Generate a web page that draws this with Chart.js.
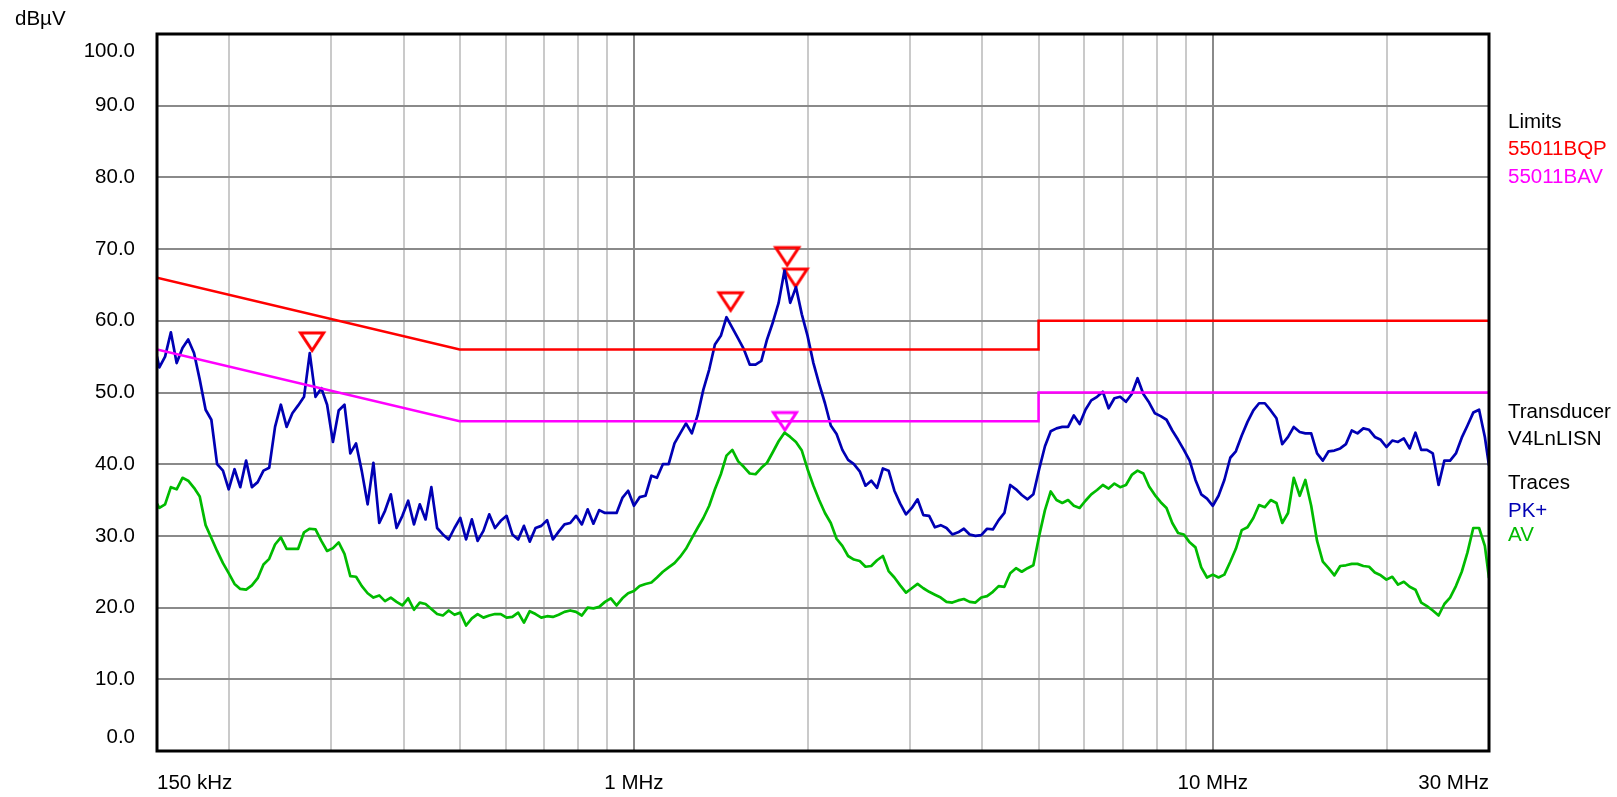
<!DOCTYPE html>
<html>
<head>
<meta charset="utf-8">
<title>Conducted emission scan</title>
<script src="https://cdn.jsdelivr.net/npm/chart.js@4.4.1/dist/chart.umd.min.js"></script>
<style>
  html, body { margin: 0; padding: 0; background: #ffffff; }
  #wrap { width: 1617px; height: 797px; }
</style>
</head>
<body>
<div id="wrap"><canvas id="scan" width="1617" height="797"></canvas></div>
<script>
// Sweep frequencies in MHz (receiver scan points)
const freqMHz = [0.15,
  0.1514,0.1549,0.1585,0.1622,0.1660,0.1698,0.1738,0.1778,0.1820,0.1862,
  0.1905,0.1950,0.1995,0.2042,0.2089,0.2138,0.2188,0.2239,0.2291,0.2344,
  0.2399,0.2455,0.2512,0.2570,0.2630,0.2692,0.2754,0.2818,0.2884,0.2951,
  0.3020,0.3090,0.3162,0.3236,0.3311,0.3388,0.3467,0.3548,0.3631,0.3715,
  0.3802,0.3890,0.3981,0.4074,0.4169,0.4266,0.4365,0.4467,0.4571,0.4677,
  0.4786,0.4898,0.5012,0.5129,0.5248,0.5370,0.5495,0.5623,0.5754,0.5888,
  0.6026,0.6166,0.6310,0.6457,0.6607,0.6761,0.6918,0.7079,0.7244,0.7413,
  0.7586,0.7762,0.7943,0.8128,0.8318,0.8511,0.8710,0.8913,0.9120,0.9333,
  0.9550,0.9772,
  1.000,1.023,1.047,1.072,1.096,1.122,1.148,1.175,1.202,1.230,
  1.259,1.288,1.318,1.349,1.380,1.413,1.445,1.479,1.514,1.549,
  1.585,1.622,1.660,1.698,1.738,1.778,1.820,1.862,1.905,1.950,
  1.995,2.042,2.089,2.138,2.188,2.239,2.291,2.344,2.399,2.455,
  2.512,2.570,2.630,2.692,2.754,2.818,2.884,2.951,3.020,3.090,
  3.162,3.236,3.311,3.388,3.467,3.548,3.631,3.715,3.802,3.890,
  3.981,4.074,4.169,4.266,4.365,4.467,4.571,4.677,4.786,4.898,
  5.012,5.129,5.248,5.370,5.495,5.623,5.754,5.888,6.026,6.166,
  6.310,6.457,6.607,6.761,6.918,7.079,7.244,7.413,7.586,7.762,
  7.943,8.128,8.318,8.511,8.710,8.913,9.120,9.333,9.550,9.772,
  10.00,10.23,10.47,10.72,10.96,11.22,11.48,11.75,12.02,12.30,
  12.59,12.88,13.18,13.49,13.80,14.13,14.45,14.79,15.14,15.49,
  15.85,16.22,16.60,16.98,17.38,17.78,18.20,18.62,19.05,19.50,
  19.95,20.42,20.89,21.38,21.88,22.39,22.91,23.44,23.99,24.55,
  25.12,25.70,26.30,26.92,27.54,28.18,28.84,29.51,
  30.0];

// PK+ trace, dBµV
const pkPlus = [55.0,
  53.5,55.0,58.4,54.1,56.2,57.4,55.5,51.8,47.6,46.2,
  40.0,39.1,36.5,39.3,36.8,40.5,36.8,37.5,39.1,39.5,
  45.2,48.3,45.2,47.1,48.2,49.4,55.5,49.4,50.6,48.3,
  43.1,47.5,48.3,41.5,42.9,39.0,34.4,40.2,31.8,33.5,
  35.8,31.1,32.8,34.9,31.6,34.4,32.3,36.8,31.1,30.2,
  29.5,31.1,32.5,29.5,32.3,29.3,30.7,33.0,31.1,32.1,
  32.8,30.2,29.5,31.4,29.2,31.1,31.4,32.2,29.5,30.6,
  31.6,31.8,32.8,31.6,33.7,31.7,33.6,33.2,33.2,33.2,
  35.3,36.3,
  34.2,35.4,35.6,38.4,38.1,40.0,40.0,42.9,44.3,45.7,
  44.3,46.8,50.4,53.2,56.7,57.9,60.5,59.0,57.5,56.0,
  53.9,53.9,54.4,57.4,59.8,62.5,67.0,62.5,64.7,60.9,
  57.9,54.1,51.2,48.5,45.4,44.2,42.0,40.6,40.0,39.0,
  37.0,37.7,36.7,39.4,39.1,36.3,34.5,33.0,33.9,35.1,
  32.9,32.8,31.2,31.5,31.1,30.2,30.5,31.0,30.2,30.0,
  30.1,31.0,30.9,32.2,33.2,37.1,36.5,35.7,35.1,35.8,
  39.3,42.5,44.6,45.0,45.2,45.2,46.8,45.6,47.6,48.9,
  49.4,50.1,47.8,49.2,49.4,48.7,49.8,52.0,49.8,48.6,
  47.1,46.7,46.2,44.7,43.4,42.0,40.5,37.8,35.8,35.2,
  34.2,35.6,37.8,40.9,41.8,44.0,45.9,47.5,48.5,48.5,
  47.5,46.4,42.8,43.8,45.2,44.5,44.3,44.3,41.5,40.5,
  41.8,41.9,42.2,42.8,44.7,44.3,45.0,44.8,43.8,43.4,
  42.4,43.3,43.1,43.6,42.2,44.4,42.0,42.0,41.5,37.1,
  40.5,40.5,41.5,43.7,45.4,47.2,47.6,43.8,
  39.8];

// AV trace, dBµV
const average = [34.5,
  33.9,34.4,36.8,36.5,38.1,37.7,36.7,35.5,31.5,29.7,
  27.9,26.2,24.8,23.3,22.6,22.5,23.1,24.1,26.0,26.8,
  28.8,29.8,28.2,28.2,28.2,30.5,31.0,30.9,29.3,27.9,
  28.3,29.1,27.5,24.4,24.3,23.0,22.0,21.4,21.7,20.9,
  21.4,20.8,20.3,21.3,19.7,20.7,20.5,19.8,19.1,18.9,
  19.6,19.0,19.3,17.5,18.5,19.1,18.6,18.9,19.1,19.1,
  18.6,18.7,19.3,17.9,19.5,19.1,18.6,18.8,18.7,19.0,
  19.4,19.6,19.4,18.9,20.0,19.9,20.1,20.8,21.3,20.3,
  21.3,22.0,
  22.3,23.0,23.3,23.5,24.2,25.0,25.6,26.2,27.1,28.2,
  29.7,31.1,32.5,34.2,36.5,38.6,41.2,42.0,40.4,39.6,
  38.7,38.6,39.5,40.2,41.7,43.2,44.4,43.8,43.1,41.9,
  39.3,37.0,35.0,33.2,31.8,29.6,28.6,27.2,26.7,26.5,
  25.7,25.8,26.6,27.2,25.1,24.2,23.1,22.1,22.7,23.3,
  22.7,22.2,21.8,21.4,20.8,20.7,21.0,21.2,20.8,20.7,
  21.4,21.6,22.2,23.0,22.9,24.8,25.5,25.0,25.5,25.9,
  30.0,33.6,36.2,35.0,34.6,35.0,34.2,33.9,34.9,35.8,
  36.4,37.1,36.6,37.3,36.8,37.1,38.5,39.1,38.7,36.9,
  35.7,34.7,33.9,31.8,30.4,30.2,29.1,28.4,25.6,24.2,
  24.6,24.2,24.6,26.4,28.2,30.8,31.2,32.5,34.3,34.0,
  35.0,34.6,31.8,33.2,38.1,35.6,37.8,34.2,29.3,26.4,
  25.5,24.5,25.8,25.9,26.1,26.1,25.8,25.7,24.9,24.5,
  23.9,24.3,23.2,23.6,22.9,22.5,20.7,20.2,19.6,18.9,
  20.5,21.4,23.0,25.0,27.7,31.1,31.1,28.6,
  24.1];

// EN 55011 class B limit lines
const limitFreq = [0.15, 0.5, 5, 5, 30];
const limitQP = [66, 56, 56, 60, 60];
const limitAV = [56, 46, 46, 50, 50];

// Peak markers
const qpMarkFreq = [0.278, 1.469, 1.840, 1.902];
const qpMarkLevel = [55.8, 61.4, 67.7, 64.7];
const avMarkFreq = [1.823];
const avMarkLevel = [44.7];

// Axes
const xGridTicks = [0.15, 0.2, 0.3, 0.4, 0.5, 0.6, 0.7, 0.8, 0.9, 1, 2, 3, 4, 5, 6, 7, 8, 9, 10, 20, 30];
const xTickLabels = { 0.15: '150 kHz', 1: '1 MHz', 10: '10 MHz', 30: '30 MHz' };
const yTicks = [0, 10, 20, 30, 40, 50, 60, 70, 80, 90, 100];
const yTickLabels = ['0.0', '10.0', '20.0', '30.0', '40.0', '50.0', '60.0', '70.0', '80.0', '90.0', '100.0'];
const yUnit = 'dBµV';

const FONT = '"Liberation Sans", Arial, Helvetica, sans-serif';
const FONT_SIZE = 20.5;
Chart.defaults.font.family = FONT;
Chart.defaults.color = '#000000';

const COL_PK = '#0000b4';
const COL_AV = '#00bb00';
const COL_QP_LIM = '#ff0000';
const COL_AV_LIM = '#ff00ff';

function pairs(xs, ys) { return xs.map((x, i) => ({ x: x, y: ys[i] })); }

// Downward triangle whose lower vertex sits exactly at the canvas centre
function triangleMarker(color) {
  const c = document.createElement('canvas');
  c.width = 30; c.height = 48;
  const g = c.getContext('2d');
  g.strokeStyle = color;
  g.lineWidth = 3;
  g.lineJoin = 'miter';
  g.beginPath();
  g.moveTo(3.5, 6); g.lineTo(26.5, 6); g.lineTo(15, 23.5); g.closePath();
  g.stroke();
  return c;
}

const legendEntries = [
  { text: 'Limits', color: '#000000', y: 122 },
  { text: '55011BQP', color: COL_QP_LIM, y: 149 },
  { text: '55011BAV', color: COL_AV_LIM, y: 177 },
  { text: 'Transducer', color: '#000000', y: 412 },
  { text: 'V4LnLISN', color: '#000000', y: 439 },
  { text: 'Traces', color: '#000000', y: 483 },
  { text: 'PK+', color: COL_PK, y: 511 },
  { text: 'AV', color: COL_AV, y: 535 }
];

const decorations = {
  id: 'decorations',
  afterDraw(chart) {
    const { ctx, chartArea: a } = chart;
    const y = chart.scales.y;
    ctx.save();
    ctx.strokeStyle = '#000000';
    ctx.lineWidth = 3;
    ctx.strokeRect(a.left, a.top, a.right - a.left, a.bottom - a.top);

    ctx.font = FONT_SIZE + 'px ' + FONT;
    ctx.fillStyle = '#000000';
    ctx.textAlign = 'right';
    ctx.textBaseline = 'middle';
    yTicks.forEach((v, i) => {
      let py = y.getPixelForValue(v);
      if (i === 0) py -= 14;
      if (i === yTicks.length - 1) py += 17;
      ctx.fillText(yTickLabels[i], 135, py);
    });

    ctx.textAlign = 'left';
    ctx.fillText(yUnit, 15, 19);

    legendEntries.forEach(e => {
      ctx.fillStyle = e.color;
      ctx.fillText(e.text, 1508, e.y);
    });
    ctx.restore();
  }
};

new Chart(document.getElementById('scan'), {
  type: 'line',
  data: {
    datasets: [
      { label: '55011BQP', data: pairs(limitFreq, limitQP), borderColor: COL_QP_LIM, borderWidth: 2.5, pointRadius: 0, tension: 0 },
      { label: '55011BAV', data: pairs(limitFreq, limitAV), borderColor: COL_AV_LIM, borderWidth: 2.5, pointRadius: 0, tension: 0 },
      { label: 'AV', data: pairs(freqMHz, average), borderColor: COL_AV, borderWidth: 2.7, pointRadius: 0, tension: 0, borderJoinStyle: 'round' },
      { label: 'PK+', data: pairs(freqMHz, pkPlus), borderColor: COL_PK, borderWidth: 2.7, pointRadius: 0, tension: 0, borderJoinStyle: 'round' },
      { label: 'QP marks', data: pairs(qpMarkFreq, qpMarkLevel), showLine: false, pointStyle: triangleMarker(COL_QP_LIM), pointRadius: 10, clip: false },
      { label: 'AV marks', data: pairs(avMarkFreq, avMarkLevel), showLine: false, pointStyle: triangleMarker(COL_AV_LIM), pointRadius: 10, clip: false }
    ]
  },
  options: {
    responsive: false,
    animation: false,
    devicePixelRatio: 1,
    layout: { padding: { left: 0, top: 34, right: 128, bottom: 0 } },
    plugins: { legend: { display: false }, tooltip: { enabled: false }, title: { display: false } },
    scales: {
      x: {
        type: 'logarithmic',
        min: 0.15,
        max: 30,
        afterBuildTicks: (scale) => { scale.ticks = xGridTicks.map(v => ({ value: v })); },
        afterFit: (scale) => { scale.height = 46; },
        border: { display: false },
        grid: {
          drawTicks: false,
          lineWidth: 2,
          color: (c) => {
            const v = c.tick ? c.tick.value : null;
            if (v === 0.15 || v === 30) return 'rgba(0,0,0,0)';
            if (v === 1 || v === 10) return '#8a8a8a';
            return '#cacaca';
          }
        },
        ticks: {
          autoSkip: false,
          maxRotation: 0,
          minRotation: 0,
          align: 'inner',
          padding: 20,
          color: '#000000',
          font: { size: FONT_SIZE },
          callback: (v) => xTickLabels[v] || ''
        }
      },
      y: {
        type: 'linear',
        min: 0,
        max: 100,
        afterBuildTicks: (scale) => { scale.ticks = yTicks.map(v => ({ value: v })); },
        afterFit: (scale) => { scale.width = 157; },
        border: { display: false },
        grid: {
          drawTicks: false,
          lineWidth: 2,
          color: (c) => {
            const v = c.tick ? c.tick.value : null;
            if (v === 0 || v === 100) return 'rgba(0,0,0,0)';
            return '#8a8a8a';
          }
        },
        ticks: { display: false }
      }
    }
  },
  plugins: [decorations]
});
</script>
</body>
</html>
